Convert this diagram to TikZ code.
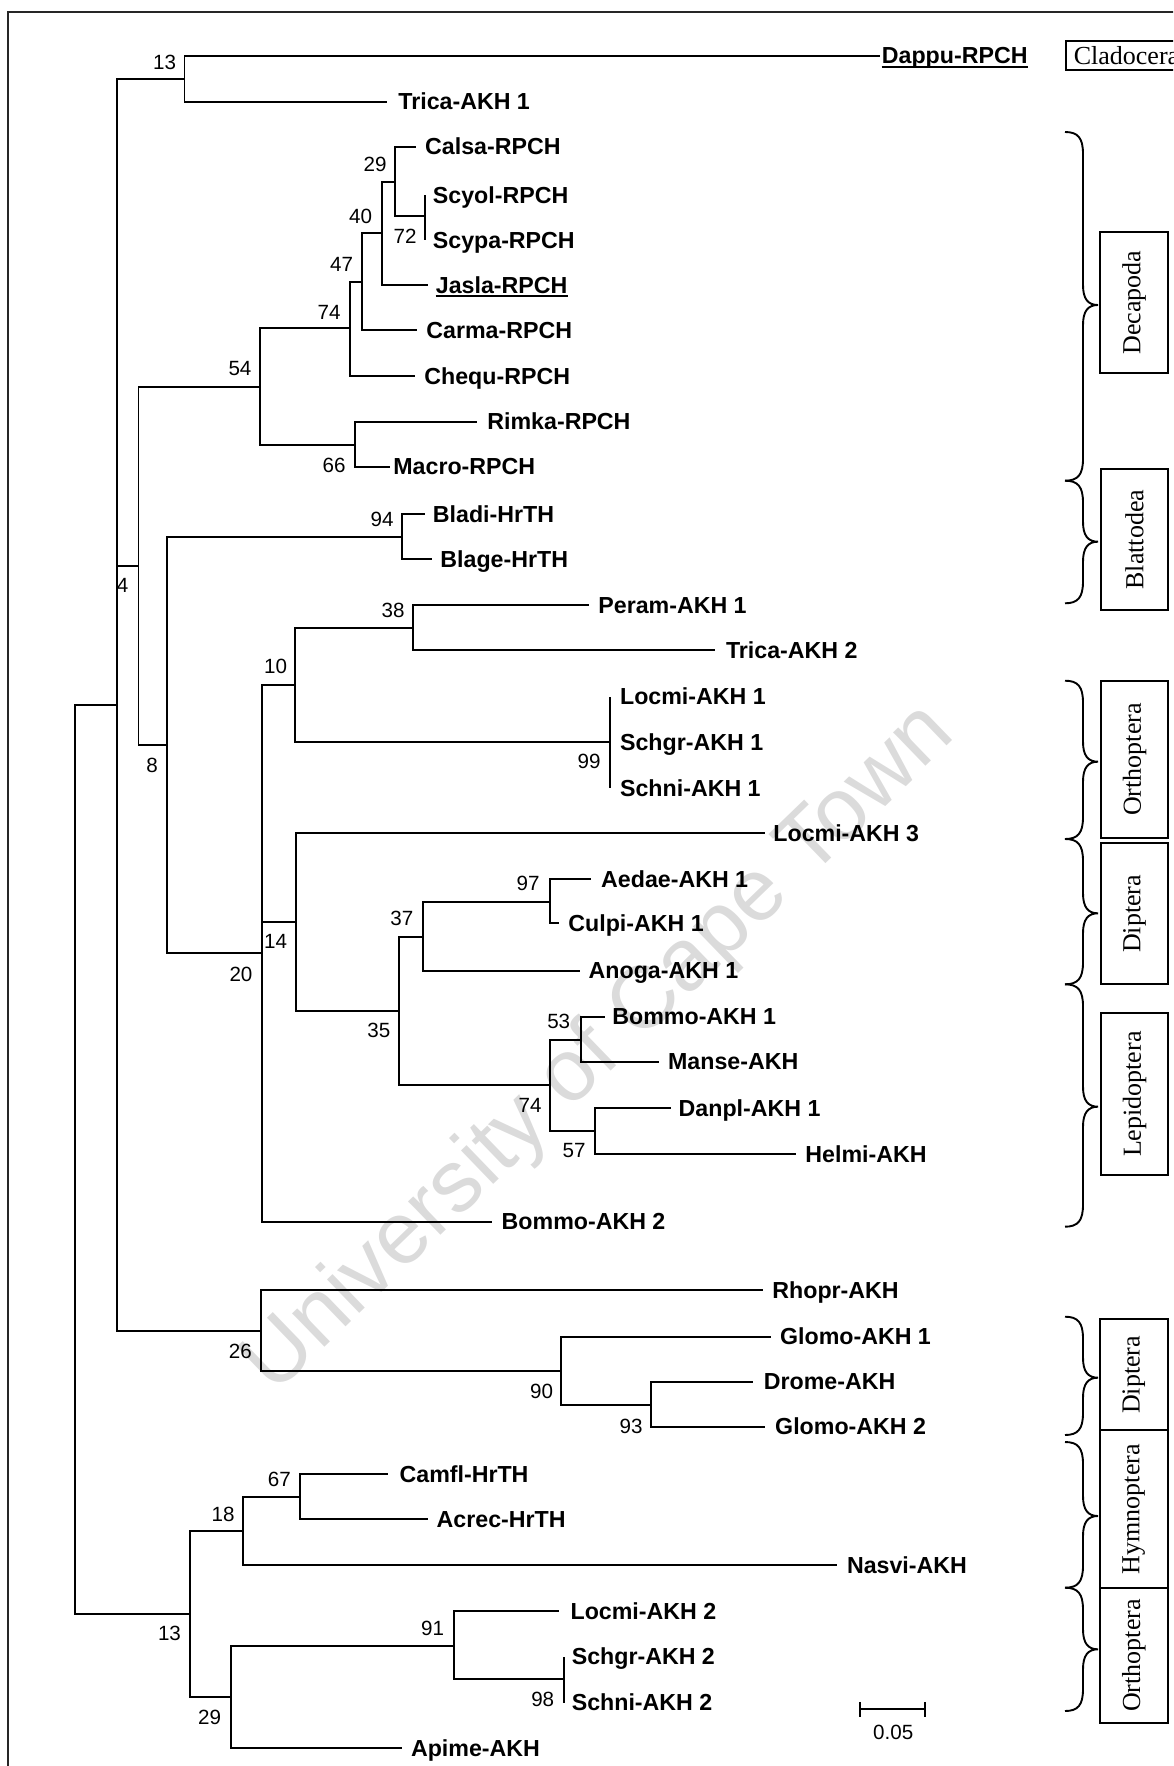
\documentclass[tikz,border=0pt]{standalone}
\usepackage{fontspec}
\setmainfont{Liberation Sans}
\newfontfamily\serifbox{Liberation Serif}
\newcommand\tleaf[5]{\coordinate (#1) at (#2,#3); \node[lab] (t-#1) at (#4,#3+8) {#5};}
\newcommand\tkids[2]{\foreach \c in {#2} {\draw[br] (#1) |- (\c);}}
\newcommand\tbrace[3]{\draw[brc] (1065,#1) .. controls (1078,#1) and (1083,#1+6) .. (1083,#1+22) -- (1083,#2-20) .. controls (1083,#2-6) and (1088,#2) .. (1098,#2) .. controls (1088,#2) and (1083,#2+6) .. (1083,#2+20) -- (1083,#3-22) .. controls (1083,#3-6) and (1078,#3) .. (1065,#3);}
\begin{document}
\begin{tikzpicture}[x=0.5pt,y=-0.5pt,
  br/.style={line width=0.95pt},
  brc/.style={line width=0.95pt},
  lab/.style={anchor=base west,inner sep=0pt,font=\fontsize{11.6}{13}\selectfont\bfseries},
  bs/.style={inner sep=0pt,font=\fontsize{10.3}{12}\selectfont},
  taxbox/.style={draw,line width=1pt,rotate=90,inner sep=0pt,minimum height=33.75pt,font=\serifbox\fontsize{13}{15}\selectfont}]
\useasboundingbox (0,0) rectangle (1173,1766);
\clip (0,0) rectangle (1173,1766);
% watermark
\node[rotate=44,text=black!14,inner sep=0pt,font=\fontsize{44}{50}\selectfont] (wm) at (600,1050) {University of Cape Town};
% frame
\draw[line width=1pt,black!85] (8,1800) -- (8,12) -- (1250,12);
% internal nodes
\coordinate (R0) at (75.4,1159);
\coordinate (A) at (116.7,705);
\coordinate (N13) at (184.5,79);
\coordinate (N4) at (138.5,566);
\coordinate (N54) at (260.2,386.7);
\coordinate (N74) at (350.2,328);
\coordinate (N47) at (362.4,281.7);
\coordinate (N40) at (382,233);
\coordinate (N29) at (395.3,181.7);
\coordinate (N72) at (424.8,216);
\coordinate (N66) at (355.1,444.7);
\coordinate (N8) at (167.2,745);
\coordinate (N94) at (401.8,536.7);
\coordinate (N20) at (262.2,953.3);
\coordinate (N10) at (295.4,685);
\coordinate (N38) at (413.3,627.7);
\coordinate (N99) at (610.3,742.3);
\coordinate (N14) at (296,922.3);
\coordinate (N35) at (399.2,1011);
\coordinate (N37) at (422.9,936.7);
\coordinate (N97) at (550,902.3);
\coordinate (N74b) at (550,1085);
\coordinate (N53) at (580.6,1040);
\coordinate (N57) at (594.7,1130.7);
\coordinate (N26) at (260.6,1331);
\coordinate (N90) at (561.4,1371);
\coordinate (N93) at (651.1,1405.3);
\coordinate (N13b) at (190.2,1613.7);
\coordinate (N18) at (243.4,1531);
\coordinate (N67) at (300.4,1497);
\coordinate (N29b) at (230.8,1696.7);
\coordinate (N91) at (454.3,1646);
\coordinate (N98) at (564.1,1679.3);
% leaves
\tleaf{Dappu}{879.5}{56}{881.5}{Dappu-RPCH}
\tleaf{TricaA1}{386.5}{101.7}{398}{Trica-AKH 1}
\tleaf{Calsa}{416.4}{147}{424.8}{Calsa-RPCH}
\tleaf{Scyol}{424.8}{195}{432.5}{Scyol-RPCH}
\tleaf{Scypa}{424.8}{240}{432.5}{Scypa-RPCH}
\tleaf{Jasla}{427.9}{285}{435.5}{Jasla-RPCH}
\tleaf{Carma}{417}{330}{426}{Carma-RPCH}
\tleaf{Chequ}{415.2}{376}{424}{Chequ-RPCH}
\tleaf{Rimka}{476.5}{421.7}{487}{Rimka-RPCH}
\tleaf{Macro}{390.4}{466.7}{393}{Macro-RPCH}
\tleaf{Bladi}{424.8}{514}{432.5}{Bladi-HrTH}
\tleaf{Blage}{431.7}{559}{440}{Blage-HrTH}
\tleaf{Peram}{589}{605}{598}{Peram-AKH 1}
\tleaf{TricaA2}{715.4}{650}{725.6}{Trica-AKH 2}
\tleaf{LocmiA1}{610.3}{696.7}{619.7}{Locmi-AKH 1}
\tleaf{SchgrA1}{610.3}{742.3}{619.7}{Schgr-AKH 1}
\tleaf{SchniA1}{610.3}{788.3}{619.7}{Schni-AKH 1}
\tleaf{LocmiA3}{765.3}{833}{773}{Locmi-AKH 3}
\tleaf{Aedae}{591}{879}{600.8}{Aedae-AKH 1}
\tleaf{Culpi}{558.7}{923.3}{568}{Culpi-AKH 1}
\tleaf{Anoga}{579.8}{970.7}{588.3}{Anoga-AKH 1}
\tleaf{BommoA1}{604.6}{1016.7}{612}{Bommo-AKH 1}
\tleaf{Manse}{659.4}{1061.7}{667.7}{Manse-AKH}
\tleaf{Danpl}{670.8}{1108.3}{678.3}{Danpl-AKH 1}
\tleaf{Helmi}{796.3}{1154}{805}{Helmi-AKH}
\tleaf{BommoA2}{491.8}{1221.7}{501.3}{Bommo-AKH 2}
\tleaf{Rhopr}{763.4}{1290}{772}{Rhopr-AKH}
\tleaf{GlomoA1}{771}{1336.7}{779.7}{Glomo-AKH 1}
\tleaf{Drome}{753.2}{1381.7}{763.4}{Drome-AKH}
\tleaf{GlomoA2}{765.3}{1426.7}{774.8}{Glomo-AKH 2}
\tleaf{Camfl}{388.4}{1474.3}{399.2}{Camfl-HrTH}
\tleaf{Acrec}{427.5}{1519.3}{436.3}{Acrec-HrTH}
\tleaf{Nasvi}{837.2}{1565.3}{846.6}{Nasvi-AKH}
\tleaf{LocmiA2}{558.7}{1611}{570.2}{Locmi-AKH 2}
\tleaf{SchgrA2}{564.1}{1656.7}{571.4}{Schgr-AKH 2}
\tleaf{SchniA2}{564.1}{1702.7}{571.4}{Schni-AKH 2}
\tleaf{Apime}{401.8}{1748.3}{410.6}{Apime-AKH}
% underlines
\draw[line width=1.2pt] ([yshift=-1.4pt]t-Dappu.base west) -- ([yshift=-1.4pt]t-Dappu.base east);
\draw[line width=1.2pt] ([yshift=-1.4pt]t-Jasla.base west) -- ([yshift=-1.4pt]t-Jasla.base east);
% branches
\tkids{R0}{A,N13b}
\tkids{A}{N13,N4,N26}
\tkids{N13}{Dappu,TricaA1}
\tkids{N4}{N54,N8}
\tkids{N54}{N74,N66}
\tkids{N74}{N47,Chequ}
\tkids{N47}{N40,Carma}
\tkids{N40}{N29,Jasla}
\tkids{N29}{Calsa,N72}
\tkids{N72}{Scyol,Scypa}
\tkids{N66}{Rimka,Macro}
\tkids{N8}{N94,N20}
\tkids{N94}{Bladi,Blage}
\tkids{N20}{N10,N14,BommoA2}
\tkids{N10}{N38,N99}
\tkids{N38}{Peram,TricaA2}
\tkids{N99}{LocmiA1,SchgrA1,SchniA1}
\tkids{N14}{LocmiA3,N35}
\tkids{N35}{N37,N74b}
\tkids{N37}{N97,Anoga}
\tkids{N97}{Aedae,Culpi}
\tkids{N74b}{N53,N57}
\tkids{N53}{BommoA1,Manse}
\tkids{N57}{Danpl,Helmi}
\tkids{N26}{Rhopr,N90}
\tkids{N90}{GlomoA1,N93}
\tkids{N93}{Drome,GlomoA2}
\tkids{N13b}{N18,N29b}
\tkids{N18}{N67,Nasvi}
\tkids{N67}{Camfl,Acrec}
\tkids{N29b}{N91,Apime}
\tkids{N91}{LocmiA2,N98}
\tkids{N98}{SchgrA2,SchniA2}
% bootstrap values
\node[bs] (b1) at (164.6,62) {13};
\node[bs] (b2) at (375,164) {29};
\node[bs] (b3) at (405,236) {72};
\node[bs] (b4) at (360.5,216) {40};
\node[bs] (b5) at (341.7,264) {47};
\node[bs] (b6) at (329,312.7) {74};
\node[bs] (b7) at (240,369) {54};
\node[bs] (b8) at (334,465) {66};
\node[bs] (b9) at (122.5,585.7) {4};
\node[bs] (b10) at (382,519) {94};
\node[bs] (b11) at (152,765) {8};
\node[bs] (b12) at (393,610) {38};
\node[bs] (b13) at (275.5,666.7) {10};
\node[bs] (b14) at (589,761.7) {99};
\node[bs] (b15) at (528,883) {97};
\node[bs] (b16) at (275.5,941.7) {14};
\node[bs] (b17) at (401.8,918.3) {37};
\node[bs] (b18) at (241,974) {20};
\node[bs] (b19) at (378.9,1030.7) {35};
\node[bs] (b20) at (558.7,1021.7) {53};
\node[bs] (b21) at (530,1105) {74};
\node[bs] (b22) at (574,1150) {57};
\node[bs] (b23) at (240.3,1351) {26};
\node[bs] (b24) at (541.5,1391) {90};
\node[bs] (b25) at (631,1426) {93};
\node[bs] (b26) at (279.4,1479.3) {67};
\node[bs] (b27) at (223.1,1514.3) {18};
\node[bs] (b28) at (169.5,1633.7) {13};
\node[bs] (b29) at (432.5,1628.3) {91};
\node[bs] (b30) at (542.7,1699.3) {98};
\node[bs] (b31) at (209.7,1717) {29};
% scale bar
\coordinate (sbL) at (859.9,1709.3);
\coordinate (sbR) at (924.9,1709.3);
\draw[br] (sbL) -- (sbR);
\draw[br] ([yshift=3.75pt]sbL) -- ([yshift=-3.75pt]sbL);
\draw[br] ([yshift=3.75pt]sbR) -- ([yshift=-3.75pt]sbR);
\node[bs] (sblab) at (893.2,1732) {0.05};
% braces
\tbrace{132}{305}{480.7}
\tbrace{480.7}{541.7}{603.3}
\tbrace{680.7}{761.7}{839}
\tbrace{839}{913.3}{984.3}
\tbrace{984.3}{1106.7}{1226.7}
\tbrace{1316.7}{1377.7}{1435}
\tbrace{1442}{1516}{1587.7}
\tbrace{1587.7}{1649.3}{1711}
% taxon boxes
\node[draw,line width=1pt,anchor=north west,inner xsep=4pt,inner ysep=0pt,minimum height=14.5pt,font=\serifbox\fontsize{13}{15}\selectfont] (box-clad) at (1064.8,40) {Cladocera};
\node[taxbox,minimum width=70.5pt] (box-deca) at (1134,302.5) {Decapoda};
\node[taxbox,minimum width=70.35pt] (box-blat) at (1134.5,539.65) {Blattodea};
\node[taxbox,minimum width=78.8pt] (box-orth1) at (1134.5,759.5) {Orthoptera};
\node[taxbox,minimum width=70.5pt] (box-dipt1) at (1134.5,913.8) {Diptera};
\node[taxbox,minimum width=80.85pt] (box-lepi) at (1134.5,1094.15) {Lepidoptera};
\node[taxbox,minimum width=55.5pt] (box-dipt2) at (1133.75,1374.8) {Diptera};
\node[taxbox,minimum width=78.7pt] (box-hymn) at (1133.75,1509) {Hymnoptera};
\node[taxbox,minimum width=67.8pt] (box-orth2) at (1133.75,1655.5) {Orthoptera};
\end{tikzpicture}
\end{document}
